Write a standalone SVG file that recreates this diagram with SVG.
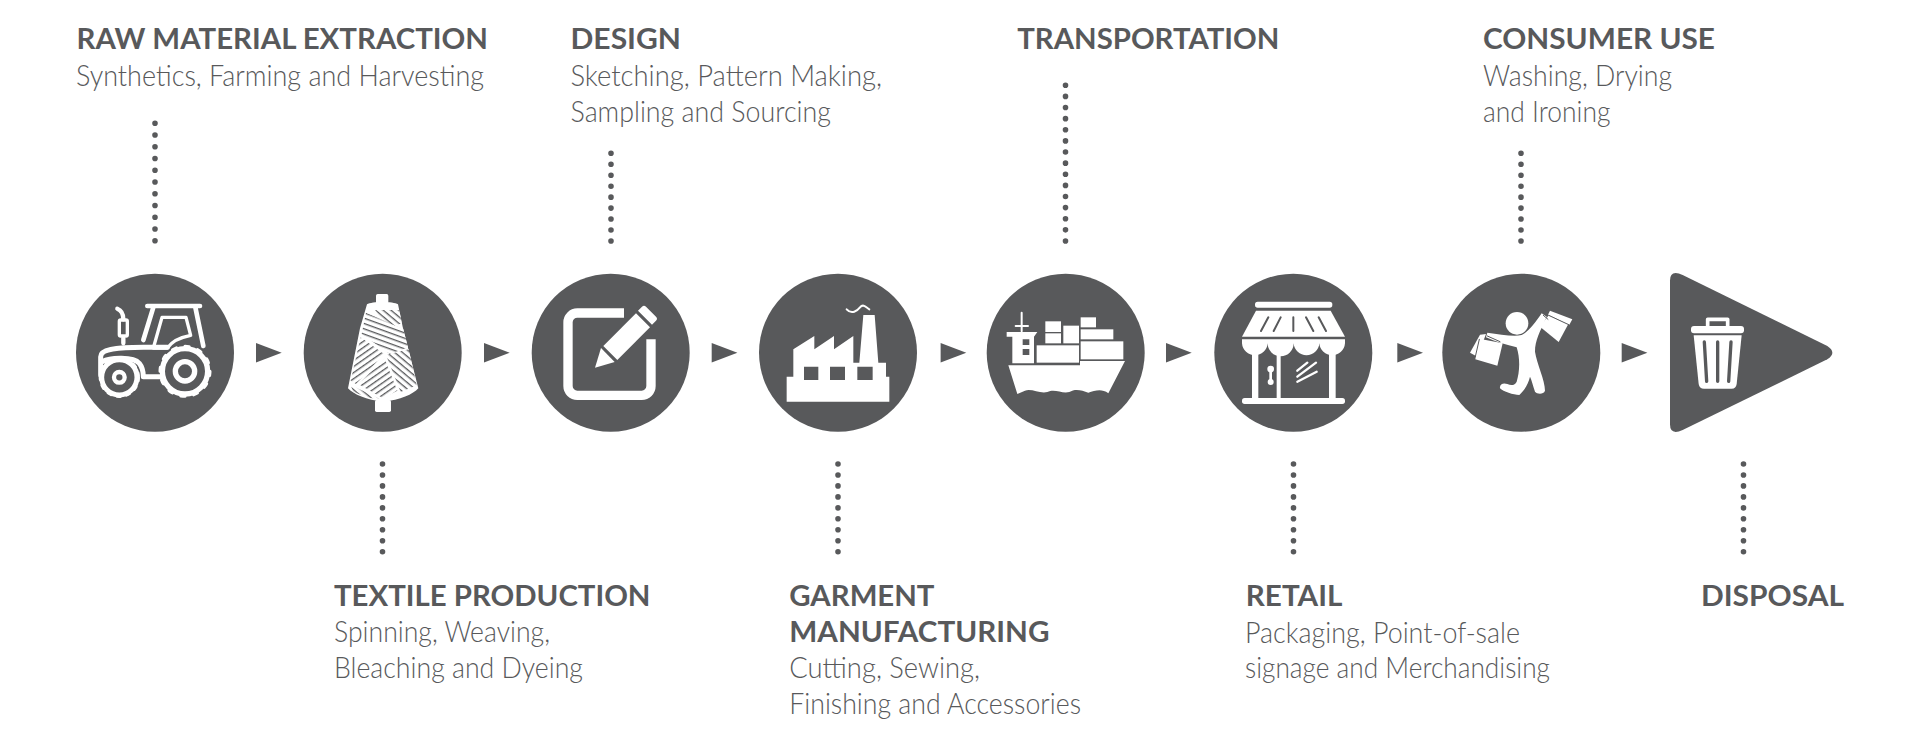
<svg xmlns="http://www.w3.org/2000/svg" width="1920" height="744" viewBox="0 0 1920 744">
<style>
text{fill:#58595b;font-family:"Lato","Open Sans","Liberation Sans",sans-serif}
.h{font-size:28px;font-weight:700}
.b{font-size:28.5px;font-weight:300}
.d{fill:#58595b}
.w{fill:#fff}
.s{fill:none;stroke:#fff;stroke-linecap:round;stroke-linejoin:round}
.k{fill:none;stroke:#58595b;stroke-linecap:round}
.dots{stroke:#58595b;stroke-width:5.6;stroke-linecap:round;fill:none}
</style>
<defs>
<polygon id="arr" points="0,-9.8 25.7,0 0,9.8" fill="#58595b"/>
<pattern id="ha" width="15" height="15" patternUnits="userSpaceOnUse" patternTransform="rotate(40)"><rect width="15" height="15" fill="#fff"/><rect width="15" height="4" fill="#58595b"/></pattern>
<pattern id="hb" width="15" height="15" patternUnits="userSpaceOnUse" patternTransform="rotate(-35)"><rect width="15" height="15" fill="#fff"/><rect width="15" height="4" fill="#58595b"/></pattern>
<pattern id="hc" width="15" height="15" patternUnits="userSpaceOnUse" patternTransform="rotate(20)"><rect width="15" height="15" fill="#fff"/><rect width="15" height="4" fill="#58595b"/></pattern>
</defs>
<g id="connectors">
<use href="#arr" x="256" y="352.7"/><use href="#arr" x="484" y="352.7"/><use href="#arr" x="711.7" y="352.7"/><use href="#arr" x="940.6" y="352.7"/><use href="#arr" x="1166" y="352.7"/><use href="#arr" x="1397.3" y="352.7"/><use href="#arr" x="1621.7" y="352.7"/>
<line class="dots" x1="155" y1="123.3" x2="155" y2="242" stroke-dasharray="0 11.75"/>
<line class="dots" x1="611" y1="153.3" x2="611" y2="242" stroke-dasharray="0 10.96"/>
<line class="dots" x1="1065.5" y1="85.3" x2="1065.5" y2="242" stroke-dasharray="0 11.12"/>
<line class="dots" x1="1521" y1="153.3" x2="1521" y2="242" stroke-dasharray="0 10.96"/>
<line class="dots" x1="382.5" y1="464" x2="382.5" y2="552.7" stroke-dasharray="0 10.96"/>
<line class="dots" x1="838" y1="464" x2="838" y2="552.7" stroke-dasharray="0 10.96"/>
<line class="dots" x1="1293.5" y1="464" x2="1293.5" y2="552.7" stroke-dasharray="0 10.96"/>
<line class="dots" x1="1743.5" y1="464" x2="1743.5" y2="552.7" stroke-dasharray="0 10.96"/>
</g>
<g id="raw-material-extraction">
<circle class="d" cx="155" cy="352.7" r="79"/>
<g transform="translate(60 260) scale(.33333)">
<path class="s" stroke-width="14" d="M262,138H420M280,142L250,240M406,142L430,258"/>
<path class="s" stroke-width="10" d="M306,172H378L392,226C360,232 335,245 322,264H280Z"/>
<path class="s" stroke-width="13" d="M190,178C190,160 182,150 172,146M190,235V250"/>
<rect x="178" y="180" width="24" height="48" rx="4" class="s" stroke-width="10"/>
<path class="s" stroke-width="15" d="M122,345V290C122,270 160,262 250,262H322M128,305C150,292 220,290 238,310 250,325 250,340 250,350H300"/>
<circle class="s" cx="178" cy="352" r="53" stroke-width="15"/>
<circle class="s" cx="178" cy="352" r="58" stroke-width="8" stroke-linecap="butt" stroke-dasharray="11 18"/>
<circle class="s" cx="178" cy="352" r="16" stroke-width="13"/>
<circle class="s" cx="375" cy="334" r="68" stroke-width="16"/>
<circle class="s" cx="375" cy="334" r="75" stroke-width="9" stroke-linecap="butt" stroke-dasharray="13 26"/>
<circle class="s" cx="375" cy="334" r="29" stroke-width="16"/>
</g>
<text class="h" x="76.5" y="49" textLength="411.5" lengthAdjust="spacingAndGlyphs">RAW MATERIAL EXTRACTION</text>
<text class="b" x="76" y="86" textLength="408" lengthAdjust="spacingAndGlyphs">Synthetics, Farming and Harvesting</text>
</g>
<g id="textile-production">
<circle class="d" cx="382.7" cy="352.7" r="79"/>
<g transform="translate(60 260) scale(.33333)">
<rect class="w" x="948" y="102" width="37" height="36" rx="5"/>
<rect class="w" x="945" y="420" width="48" height="36" rx="5"/>
<path class="w" d="M921,133C935,124 1000,124 1014,133L1028,200 1075,385C1060,402 1020,422 970,424 920,422 880,402 864,385L900,205Z"/>
<path fill="url(#ha)" d="M945,150H1018L1025,190 985,205Z"/>
<path fill="url(#hc)" d="M918,158L1030,208 1044,262 990,282 905,222Z"/>
<path fill="url(#hb)" d="M902,232L972,282 888,372 872,362Z"/>
<path fill="url(#ha)" d="M978,285L1046,268 1070,376 1022,396Z"/>
<path fill="url(#hb)" d="M974,296L1012,392 968,414 895,372Z"/>
<path fill="url(#ha)" d="M872,376L886,382 958,416 930,414 880,396Z"/>
</g>
<text class="h" x="334" y="606" textLength="316.5" lengthAdjust="spacingAndGlyphs">TEXTILE PRODUCTION</text>
<text class="b" x="334" y="642" textLength="216" lengthAdjust="spacingAndGlyphs">Spinning, Weaving,</text>
<text class="b" x="334" y="677.7" textLength="249" lengthAdjust="spacingAndGlyphs">Bleaching and Dyeing</text>
</g>
<g id="design">
<circle class="d" cx="610.7" cy="352.7" r="79"/>
<g transform="translate(500 260) scale(.33333)">
<path fill="none" stroke="#fff" stroke-width="28" d="M372,159H232A28,28 0 0 0 204,187V378A28,28 0 0 0 232,406H425A28,28 0 0 0 453,378V238"/>
<polygon class="w" points="285,323 303,264 344,306"/>
<polygon class="w" points="310,258 408,160 450,202 352,300"/>
<path class="w" d="M414,152L426,140Q432,134 438,140L468,170Q474,176 468,182L456,194Z"/>
</g>
<text class="h" x="570.5" y="49" textLength="110.5" lengthAdjust="spacingAndGlyphs">DESIGN</text>
<text class="b" x="570.5" y="86" textLength="311.5" lengthAdjust="spacingAndGlyphs">Sketching, Pattern Making,</text>
<text class="b" x="570.5" y="121.7" textLength="260.5" lengthAdjust="spacingAndGlyphs">Sampling and Sourcing</text>
</g>
<g id="garment-manufacturing">
<circle class="d" cx="838" cy="352.7" r="79"/>
<g transform="translate(500 260) scale(.33333)">
<path class="w" fill-rule="evenodd" d="M860,425V350H880V268L943,228V268L1002,228V268L1060,228V308H1078L1090,165H1124L1135,308H1158V350H1168V425ZM912,320V360H955V320ZM990,320V360H1035V320ZM1072,320V360H1118V320Z"/>
<path class="s" stroke-width="6" d="M1040,148C1055,165 1072,152 1080,142 1090,130 1098,142 1108,148"/>
</g>
<text class="h" x="789.3" y="606" textLength="145.2" lengthAdjust="spacingAndGlyphs">GARMENT</text>
<text class="h" x="789.3" y="642" textLength="260.2" lengthAdjust="spacingAndGlyphs">MANUFACTURING</text>
<text class="b" x="789.3" y="678" textLength="190.7" lengthAdjust="spacingAndGlyphs">Cutting, Sewing,</text>
<text class="b" x="789.3" y="714" textLength="291.7" lengthAdjust="spacingAndGlyphs">Finishing and Accessories</text>
</g>
<g id="transportation">
<circle class="d" cx="1065.7" cy="352.7" r="79"/>
<g transform="translate(960 260) scale(.33333)">
<path class="w" d="M145,316H360V303H495L445,400C425,385 405,392 385,398 365,390 345,385 328,396 305,402 285,385 262,396 240,402 215,385 195,392L172,402Z"/>
<path class="w" fill-rule="evenodd" d="M157,310V230H140V216H232L222,230V310ZM188,238V255H208V238ZM188,267V285H208V267Z"/>
<path class="s" stroke-width="6" d="M185,158V214M167,198H204"/>
<g class="w">
<rect x="256" y="184" width="47" height="32"/><rect x="256" y="220" width="47" height="30"/><rect x="310" y="197" width="47" height="53"/>
<rect x="362" y="172" width="46" height="30"/><rect x="362" y="208" width="98" height="30"/><rect x="362" y="244" width="128" height="54"/>
<rect x="230" y="256" width="127" height="52"/>
</g>
</g>
<text class="h" x="1017.2" y="49" textLength="262.2" lengthAdjust="spacingAndGlyphs">TRANSPORTATION</text>
</g>
<g id="retail">
<circle class="d" cx="1293.3" cy="352.7" r="79"/>
<g transform="translate(960 260) scale(.33333)">
<rect class="w" x="885" y="125" width="232" height="18" rx="8"/>
<polygon class="w" points="888,152 1112,152 1155,230 846,230"/>
<path class="k" stroke-width="6" d="M925,172L903,213M962,172L941,213M1000,172V213M1038,172L1060,213M1076,172L1098,213"/>
<path class="w" d="M846,238H1155V250A38.6,38.6 0 0 1 1078,250 38.6,38.6 0 0 1 1001,250 38.6,38.6 0 0 1 923,250 38.6,38.6 0 0 1 846,250Z"/>
<path class="w" d="M876,280H895V415H876ZM950,270H962V415H950ZM1107,280H1127V415H1107Z"/>
<rect class="w" x="846" y="414" width="309" height="18" rx="8"/>
<circle class="w" cx="932" cy="327" r="10"/><circle class="w" cx="932" cy="366" r="9"/><rect class="w" x="928" y="327" width="8" height="38"/>
<path class="s" stroke-width="7" stroke-linecap="butt" d="M1012,332L1042,308M1012,350L1068,308M1012,365L1070,335"/>
</g>
<text class="h" x="1245.8" y="606" textLength="96.6" lengthAdjust="spacingAndGlyphs">RETAIL</text>
<text class="b" x="1245" y="642.5" textLength="275" lengthAdjust="spacingAndGlyphs">Packaging, Point-of-sale</text>
<text class="b" x="1245" y="677.7" textLength="305" lengthAdjust="spacingAndGlyphs">signage and Merchandising</text>
</g>
<g id="consumer-use">
<circle class="d" cx="1521.3" cy="352.7" r="79"/>
<g transform="translate(1400 260) scale(.33333)">
<circle class="w" cx="351" cy="190" r="34"/>
<path class="w" d="M262,218C300,222 340,232 365,225 385,215 405,190 425,160L440,170C420,215 405,240 405,275 410,310 435,360 435,392 430,405 410,402 405,395 398,375 395,360 390,350 385,370 375,390 358,405 340,405 310,395 300,385 298,372 310,368 322,372 335,378 345,375 350,365 358,340 362,300 350,262 320,255 285,245 258,232Z"/>
<polygon class="w" points="238,236 308,250 292,317 226,298"/>
<polygon class="w" points="210,278 240,224 258,222 232,290"/>
<path class="k" stroke-width="3" d="M238,238L226,290M262,228L300,245"/>
<polygon class="w" points="420,200 446,166 505,192 476,246"/>
<polygon class="w" points="450,152 517,178 508,194 444,164"/>
<path class="k" stroke-width="3" d="M446,166L506,194M430,166L444,178"/>
</g>
<text class="h" x="1483" y="49" textLength="232" lengthAdjust="spacingAndGlyphs">CONSUMER USE</text>
<text class="b" x="1483" y="86" textLength="189" lengthAdjust="spacingAndGlyphs">Washing, Drying</text>
<text class="b" x="1483" y="121.7" textLength="127.5" lengthAdjust="spacingAndGlyphs">and Ironing</text>
</g>
<g id="disposal">
<g transform="translate(1400 260) scale(.33333)">
<path class="d" d="M810,62Q810,28 848,45L1282,258Q1312,278 1282,298L848,510Q810,527 810,493Z"/>
<rect class="w" x="873" y="198" width="159" height="22" rx="9"/>
<path class="s" stroke-width="11" d="M923,198V178H983V198"/>
<path class="w" fill-rule="evenodd" d="M881,226H1025L1010,372Q1008,386 995,386H912Q898,386 896,372Z"/>
<path class="k" stroke-width="10" d="M913,246L920,364M953,246V364M993,246L986,364"/>
</g>
<text class="h" x="1701" y="606" textLength="143" lengthAdjust="spacingAndGlyphs">DISPOSAL</text>
</g>
</svg>
